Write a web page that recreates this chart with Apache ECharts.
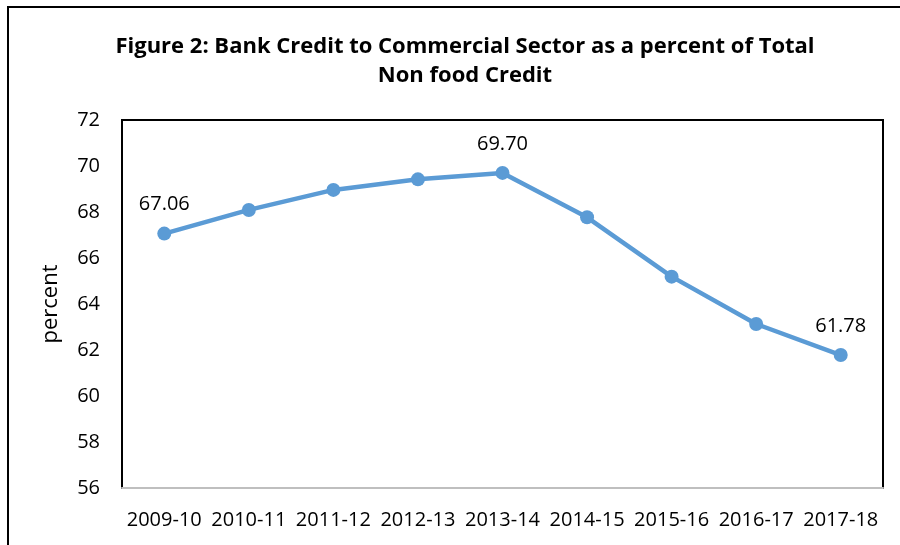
<!DOCTYPE html>
<html>
<head>
<meta charset="utf-8">
<script src="https://cdn.jsdelivr.net/npm/echarts@6/dist/echarts.min.js"></script>
<style>
html,body{margin:0;padding:0;background:#fff;}
#chart{width:900px;height:545px;}
</style>
</head>
<body>
<div id="chart"></div>
<script>
var categories = ["2009-10","2010-11","2011-12","2012-13","2013-14","2014-15","2015-16","2016-17","2017-18"];
var values = [67.06, 68.09, 68.96, 69.42, 69.70, 67.77, 65.19, 63.13, 61.78];
var labelledIndices = [0, 4, 8];
var yTicks = {min: 56, max: 72, interval: 2};
var titleText = "Figure 2: Bank Credit to Commercial Sector as a percent of Total\nNon food Credit";
var yName = "percent";

var chart = echarts.init(document.getElementById('chart'), null, {renderer: 'canvas'});
var FONT = "'Open Sans', 'Noto Sans', sans-serif";

var seriesData = values.map(function (v, i) {
  return {
    value: v,
    label: {show: labelledIndices.indexOf(i) >= 0}
  };
});

chart.setOption({
  animation: false,
  backgroundColor: '#ffffff',
  title: {
    text: titleText,
    left: 460,
    textAlign: 'center',
    top: 27,
    textStyle: {
      fontFamily: FONT,
      fontWeight: 'bold',
      fontSize: 22,
      lineHeight: 29,
      color: '#000'
    }
  },
  graphic: [
    {type: 'line', shape: {x1: 8, y1: 545, x2: 8, y2: 7}, style: {stroke: '#000', lineWidth: 2}},
    {type: 'line', shape: {x1: 7, y1: 7, x2: 900, y2: 7}, style: {stroke: '#000', lineWidth: 2}}
  ],
  grid: {
    left: 122, right: 17, top: 120, bottom: 57,
    show: true,
    borderColor: '#000',
    borderWidth: 2,
    backgroundColor: 'transparent'
  },
  xAxis: {
    type: 'category',
    data: categories,
    boundaryGap: true,
    axisLine: {show: true, lineStyle: {color: '#BFBFBF', width: 2}},
    axisTick: {show: false},
    axisLabel: {
      margin: 22,
      fontFamily: FONT,
      fontSize: 20,
      color: '#000',
      interval: 0
    },
    splitLine: {show: false},
    z: 5
  },
  yAxis: {
    type: 'value',
    min: yTicks.min,
    max: yTicks.max,
    interval: yTicks.interval,
    name: yName,
    nameLocation: 'middle',
    nameGap: 60,
    nameRotate: 90,
    nameTextStyle: {fontFamily: FONT, fontSize: 22, color: '#000'},
    axisLine: {show: true, lineStyle: {color: '#000', width: 2}},
    axisTick: {show: false},
    axisLabel: {
      margin: 22,
      fontFamily: FONT,
      fontSize: 20,
      color: '#000',
      formatter: function (v) { return String(v); }
    },
    splitLine: {show: false}
  },
  series: [{
    type: 'line',
    data: seriesData,
    symbol: 'circle',
    symbolSize: 14,
    lineStyle: {color: '#5B9BD5', width: 4.5},
    itemStyle: {color: '#5B9BD5'},
    label: {
      position: 'top',
      distance: 12,
      fontFamily: FONT,
      fontSize: 20,
      color: '#000',
      formatter: function (p) { return p.value.toFixed(2); }
    }
  }]
});
</script>
</body>
</html>
